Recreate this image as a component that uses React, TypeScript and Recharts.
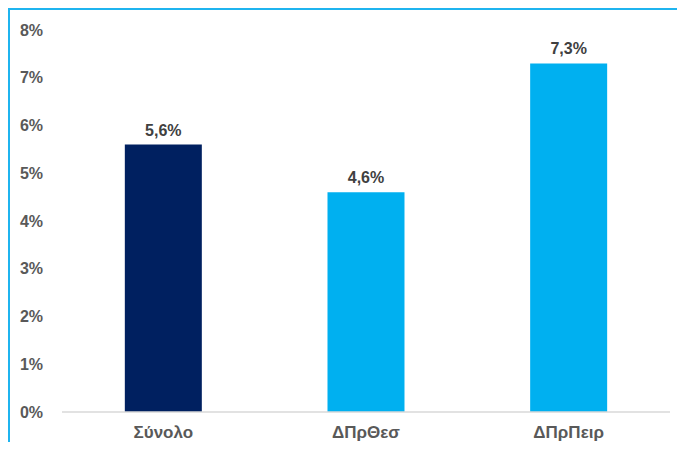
import { Bar, BarChart, Cell, LabelList, XAxis, YAxis } from "recharts";

const categories = ["Σύνολο", "ΔΠρΘεσ", "ΔΠρΠειρ"];
const values = [5.6, 4.6, 7.3];
const barColors = ["#002060", "#00b0f0", "#00b0f0"];
const yTicks = [0, 1, 2, 3, 4, 5, 6, 7, 8];

const data = categories.map((name, i) => ({ name, value: values[i] }));

const FONT = "'Liberation Sans', Arial, sans-serif";

export default function App() {
  return (
    <div
      style={{
        width: 667,
        height: 432,
        borderTop: "2px solid #1fb4ef",
        borderLeft: "2px solid #1fb4ef",
        fontFamily: FONT,
      }}
    >
      <BarChart
        width={665}
        height={436}
        data={data}
        margin={{ top: 20, right: 5, left: 0, bottom: 0 }}
        barCategoryGap="31%"
      >
        <XAxis
          dataKey="name"
          height={34}
          tickLine={false}
          tickSize={0}
          tickMargin={14}
          axisLine={{ stroke: "#d9d9d9", strokeWidth: 1.5 }}
          tick={{ fill: "#595959", fontSize: 17, fontWeight: 700, fontFamily: FONT }}
        />
        <YAxis
          width={52}
          domain={[0, 8]}
          ticks={yTicks}
          axisLine={false}
          tickLine={false}
          tickSize={0}
          tickMargin={19}
          tickFormatter={(v: number) => `${v}%`}
          tick={{ fill: "#595959", fontSize: 16, fontWeight: 700, fontFamily: FONT }}
        />
        <Bar dataKey="value" isAnimationActive={false}>
          {data.map((d, i) => (
            <Cell key={d.name} fill={barColors[i]} />
          ))}
          <LabelList
            dataKey="value"
            position="top"
            offset={9}
            formatter={(v: number) => `${v.toFixed(1).replace(".", ",")}%`}
            style={{ fill: "#404040", fontSize: 16, fontWeight: 700, fontFamily: FONT }}
          />
        </Bar>
      </BarChart>
    </div>
  );
}
